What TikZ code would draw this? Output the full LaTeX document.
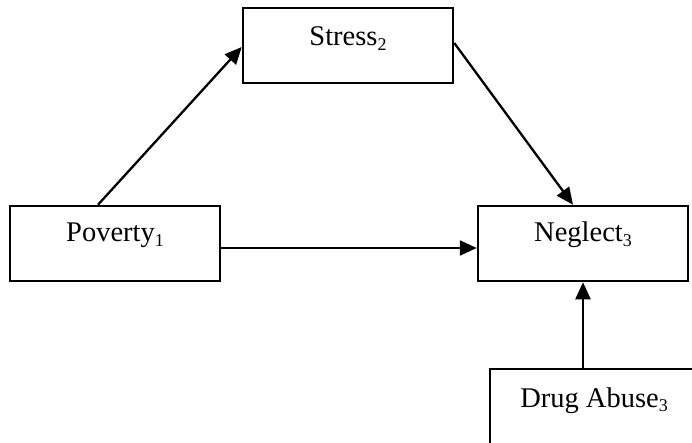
\documentclass[tikz,border=0pt]{standalone}
\usepackage{fontspec}
\setmainfont{Liberation Serif}
\usetikzlibrary{arrows.meta}
\newcommand{\mysub}[1]{\raisebox{-4.5pt}{\fontsize{18}{19}\selectfont #1}}
\tikzset{
  box/.style={draw, line width=2.5pt, inner sep=0pt},
  lbl/.style={anchor=base, inner sep=0pt, font=\fontsize{28.5}{32}\selectfont},
  arr/.style={line width=2.3pt, -{Triangle[length=17pt,width=15pt]}}
}
\begin{document}
\begin{tikzpicture}[x=1pt,y=-1pt]
\useasboundingbox (0,0) rectangle (692,443);
\clip (0,0) rectangle (692,443);
\fill[white] (0,0) rectangle (692,443);
% boxes
\node[box, minimum width=210pt, minimum height=75pt] (stress) at (348,45.5) {};
\node[box, minimum width=210pt, minimum height=75pt] (poverty) at (115,243.5) {};
\node[box, minimum width=210pt, minimum height=75pt] (neglect) at (583,243.5) {};
\node[box, minimum width=220pt, minimum height=100pt] (drug) at (600,419) {};
% texts
\node[lbl] (stresst) at (348,46) {Stress\mysub{2}};
\node[lbl] (povertyt) at (115,242) {Poverty\mysub{1}};
\node[lbl] (neglectt) at (583,242) {Neglect\mysub{3}};
\node[lbl] (drugt) at (594,407) {Drug Abuse\mysub{3}};
% connectors
\draw[arr] ([xshift=-17pt]poverty.north) -- ([yshift=-1.5pt]stress.west);
\draw[arr] ([yshift=2.5pt]stress.east) -- ([xshift=-10pt]neglect.north);
\draw[arr] ([yshift=-4.5pt]poverty.east) -- ([yshift=-4.5pt]neglect.west);
\draw[arr] (neglect.south |- drug.north) -- (neglect.south);
\end{tikzpicture}
\end{document}
